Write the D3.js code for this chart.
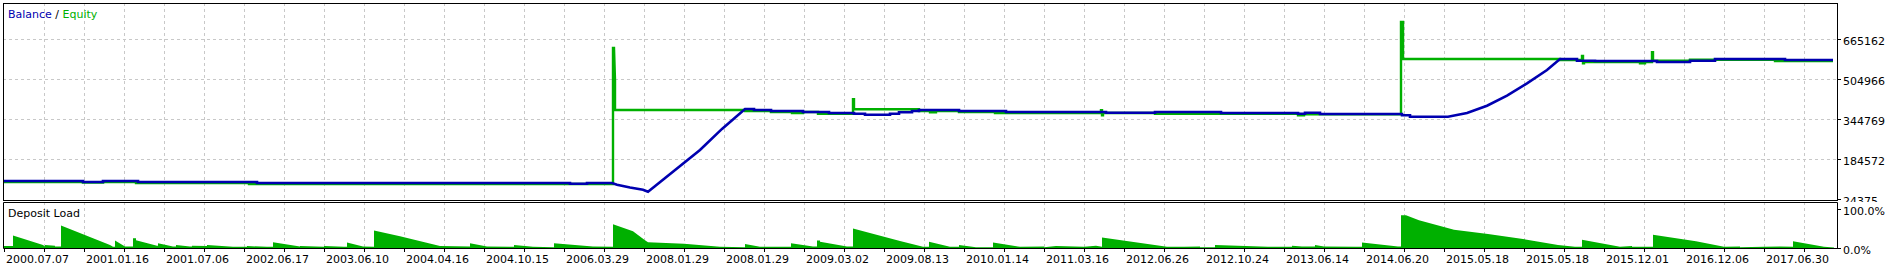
<!DOCTYPE html>
<html lang="en">
<head>
<meta charset="UTF-8">
<title>Balance / Equity</title>
<script src="https://d3js.org/d3.v7.min.js"></script>
<style>
  body { margin: 0; background: #fff; }
  svg { display: block; }
  text { font-family: "DejaVu Sans", sans-serif; font-size: 11px; fill: #000; }
</style>
</head>
<body>
<svg width="1890" height="268"></svg>
<script>
// x axis date labels, one every 20 trades
const dateLabels = ['2000.07.07', '2001.01.16', '2001.07.06', '2002.06.17', '2003.06.10', '2004.04.16',
  '2004.10.15', '2006.03.29', '2008.01.29', '2008.01.29', '2009.03.02', '2009.08.13', '2010.01.14',
  '2011.03.16', '2012.06.26', '2012.10.24', '2013.06.14', '2014.06.20', '2015.05.18', '2015.05.18',
  '2015.12.01', '2016.12.06', '2017.06.30'];
const balanceTicks = [24375, 184572, 344769, 504966, 665162];
const loadTicks = [0, 100];

// [trade number, value]
const balance = [
  [0, 96500], [19.75, 96500], [19.75, 92500], [24.75, 92500], [24.75, 96500], [33.5, 96500],
  [33.5, 92500], [63.25, 92500], [63.25, 88500], [141.5, 88500], [141.5, 85700], [145.75, 85700],
  [145.75, 88500], [152, 88500], [153.25, 81600], [156.5, 70400], [159.75, 61600], [161, 53600],
  [174, 220600], [179.5, 305100], [185.25, 384800], [187.5, 384800], [187.5, 380800],
  [191.75, 380800], [191.75, 376800], [199.75, 376800], [199.75, 372800], [206.25, 372800],
  [206.25, 368800], [212.5, 368800], [212.5, 366000], [215.25, 366000], [215.25, 362000],
  [221.5, 362000], [221.5, 366000], [223.75, 366000], [223.75, 371600], [227, 371600],
  [227, 376800], [228.75, 376800], [228.75, 380800], [238.75, 380800], [238.75, 376800],
  [250.5, 376800], [250.5, 372800], [275.5, 372800], [275.5, 370000], [287.75, 370000],
  [287.75, 372800], [304.25, 372800], [304.25, 368800], [323.5, 368800], [323.5, 366000],
  [325.25, 366000], [325.25, 370000], [329, 370000], [329, 365000], [349.5, 365000],
  [349.5, 359600], [351.5, 359600], [351.5, 354000], [361, 354000], [365.75, 368800],
  [370.75, 398000], [375.75, 438100], [380.75, 487700], [385.75, 541000], [389, 585100],
  [393.25, 585100], [393.25, 578300], [397.75, 578300], [397.75, 577100], [413.25, 577100],
  [413.25, 573100], [421.5, 573100], [421.5, 578300], [427.75, 578300], [427.75, 585100],
  [445.25, 585100], [445.25, 581100], [457.25, 581100]
];

const equity = [
  [0, 92500], [19.75, 92500], [19.75, 90500], [24.75, 90500], [24.75, 92500], [33, 92500],
  [33, 88500], [61.25, 88500], [61.25, 84500], [152.25, 84500], [152.25, 629100], [152.5, 629100],
  [152.75, 501000], [152.75, 380800], [185.25, 380800], [185.25, 376800], [191.75, 376800],
  [191.75, 372800], [197, 372800], [197, 368800], [199.75, 368800], [199.75, 372800],
  [203.5, 372800], [203.5, 366000], [212.25, 366000], [212.25, 423700], [212.5, 423700],
  [212.5, 383600], [228.75, 383600], [228.75, 376800], [231.5, 376800], [231.5, 371600],
  [233, 371600], [233, 376800], [238.75, 376800], [238.75, 372800], [247.75, 372800],
  [247.75, 368800], [274.25, 368800], [274.25, 380000], [274.5, 380000], [274.5, 360000],
  [274.75, 360000], [274.75, 368800], [287.75, 368800], [287.75, 366000], [323.5, 366000],
  [323.5, 360000], [325, 360000], [325, 364000], [349.25, 364000], [349.25, 733200],
  [349.75, 733200], [349.75, 585100], [389, 585100], [389, 581100], [394.5, 581100],
  [394.5, 597100], [394.75, 597100], [394.75, 567800], [395, 567800], [395, 573100],
  [409, 573100], [409, 567800], [410.25, 567800], [410.25, 573100], [412, 573100],
  [412, 611900], [412.25, 611900], [412.25, 578300], [421.5, 578300], [421.5, 582300],
  [442.75, 582300], [442.75, 577100], [457.25, 577100]
];

// [trade number, deposit load %]
const depositLoad = [
  [0, 5], [2.25, 5], [2.25, 32], [9.75, 8], [10.25, 4], [10.25, 8], [12.75, 6], [12.75, 4], [14.25, 4],
  [14.25, 58], [26.5, 8], [27.25, 3], [27.75, 3], [27.75, 19], [30.25, 4], [32.25, 4], [32.25, 25],
  [33, 25], [33, 20], [38.25, 6], [38.5, 6], [38.5, 12], [42.25, 4], [43, 4], [43, 8], [46.5, 4],
  [47, 4], [47, 6], [50.75, 5], [50.75, 8], [57.25, 3], [60.75, 3], [60.75, 5], [65.75, 3],
  [67.25, 3], [67.25, 15], [74, 4], [74, 5], [80, 3], [80, 5], [85, 3], [85.75, 3], [85.75, 14],
  [89.75, 4], [92.5, 3], [92.5, 45], [99, 30], [109, 5], [116.5, 4], [116.5, 12], [120.75, 4],
  [127.5, 3], [127.5, 8], [132.25, 3], [137.5, 2], [137.5, 12], [147.25, 4], [152.25, 3],
  [152.25, 61], [157.25, 43], [160.25, 20], [161, 15], [170, 11], [179, 3], [185.25, 2],
  [185.25, 10], [189, 3], [196.75, 3], [196.75, 12], [202.25, 4], [203.25, 4], [203.25, 19],
  [204, 19], [204, 16], [210.75, 4], [212.25, 4], [212.25, 50], [224, 18], [229.75, 3],
  [231.25, 3], [231.25, 16], [236.5, 3], [238.75, 3], [238.75, 8], [243, 2], [247.25, 2],
  [247.25, 14], [254, 3], [260, 4], [260, 2], [263, 5], [270, 3], [273, 6], [274.5, 3],
  [274.5, 27], [290.75, 3], [295, 3], [299, 4], [299, 2], [302.75, 2], [302.75, 8], [316, 3],
  [322, 3], [322, 6], [324.5, 4], [327.75, 4], [327.75, 8], [330, 4], [338, 3], [339.5, 3],
  [339.5, 14], [348.5, 4], [349.25, 4], [349.25, 84], [350.5, 84], [353.75, 71], [362.5, 47],
  [371, 36], [379.75, 23], [388.5, 8], [392.75, 3], [394.5, 3], [394.5, 21], [404, 3], [407, 5],
  [407, 3], [412.25, 3], [412.25, 34], [423, 17], [430, 3], [434, 4], [434, 2], [440, 3],
  [444, 4], [447.25, 3], [447.25, 17], [455, 3], [457.5, 1], [457.5, 0]
];

const trades = 458.25;
const frameLeft = 3, frameRight = 1837, frameTop = 3, mainBottom = 200, lowerTop = 202, lowerBottom = 248;
const blue = '#0000b0', green = '#00b000', gridColor = '#c8c8c8';

const svg = d3.select('svg');
svg.append('rect').attr('width', 1890).attr('height', 268).attr('fill', '#fff');

const x = d3.scaleLinear().domain([0, trades]).range([frameLeft + 1, frameRight]);
const y = d3.scaleLinear().domain([balanceTicks[0], balanceTicks[4]]).range([199, 39]);
const yLoad = d3.scaleLinear().domain([0, 100]).range([lowerBottom, 209]);
const px = v => Math.round(v) + 0.5;

// vertical grid, main panel
const gridX = d3.range(10, trades, 10);
svg.append('g').selectAll('line').data(gridX).join('line')
  .attr('x1', d => px(x(d))).attr('x2', d => px(x(d)))
  .attr('y1', frameTop).attr('y2', mainBottom)
  .attr('stroke', gridColor).attr('stroke-dasharray', '3,3');

// horizontal grid, main panel
svg.append('g').selectAll('line').data(balanceTicks.slice(1)).join('line')
  .attr('x1', frameLeft).attr('x2', frameRight)
  .attr('y1', d => px(y(d))).attr('y2', d => px(y(d)))
  .attr('stroke', gridColor).attr('stroke-dasharray', '3,3');

// balance / equity lines
svg.append('clipPath').attr('id', 'main-clip')
  .append('rect').attr('x', frameLeft + 1).attr('y', frameTop + 1)
  .attr('width', frameRight - frameLeft - 1).attr('height', mainBottom - frameTop - 1);

const line = d3.line().x(d => x(d[0])).y(d => y(d[1]));
const plot = svg.append('g').attr('clip-path', 'url(#main-clip)');
plot.append('path').datum(equity).attr('d', line)
  .attr('fill', 'none').attr('stroke', green).attr('stroke-width', 2.4);
plot.append('path').datum(balance).attr('d', line)
  .attr('fill', 'none').attr('stroke', blue).attr('stroke-width', 2.6);

// main frame
svg.append('rect')
  .attr('x', frameLeft + 0.5).attr('y', frameTop + 0.5)
  .attr('width', frameRight - frameLeft).attr('height', mainBottom - frameTop)
  .attr('fill', 'none').attr('stroke', '#000');

// main right axis
const yAxis = svg.append('g');
yAxis.selectAll('line').data(balanceTicks).join('line')
  .attr('x1', frameRight).attr('x2', frameRight + 4)
  .attr('y1', d => px(y(d))).attr('y2', d => px(y(d)))
  .attr('stroke', '#000');
yAxis.selectAll('text').data(balanceTicks).join('text')
  .attr('x', frameRight + 6).attr('y', d => y(d) + 6)
  .text(d => d);

const title = svg.append('text').attr('x', 8).attr('y', 18);
title.append('tspan').style('fill', blue).text('Balance');
title.append('tspan').text(' / ');
title.append('tspan').style('fill', green).text('Equity');

// lower panel covers the clipped bottom label
svg.append('rect').attr('x', 0).attr('y', lowerTop).attr('width', 1890).attr('height', 268 - lowerTop)
  .attr('fill', '#fff');
svg.append('g').selectAll('line').data(gridX).join('line')
  .attr('x1', d => px(x(d))).attr('x2', d => px(x(d)))
  .attr('y1', lowerTop).attr('y2', lowerBottom)
  .attr('stroke', gridColor).attr('stroke-dasharray', '3,3');

const area = d3.area().x(d => x(d[0])).y0(yLoad(0)).y1(d => yLoad(d[1]));
svg.append('path').datum(depositLoad).attr('d', area).attr('fill', green);

svg.append('path')
  .attr('d', `M${frameLeft + 0.5},${lowerBottom + 0.5}V${lowerTop + 0.5}H${frameRight + 0.5}V${lowerBottom + 0.5}H${frameLeft + 0.5}`)
  .attr('fill', 'none').attr('stroke', '#000');

svg.append('text').attr('x', 8).attr('y', 217).text('Deposit Load');

const loadAxis = svg.append('g');
loadAxis.selectAll('line').data(loadTicks).join('line')
  .attr('x1', frameRight).attr('x2', frameRight + 4)
  .attr('y1', d => px(yLoad(d))).attr('y2', d => px(yLoad(d)))
  .attr('stroke', '#000');
loadAxis.selectAll('text').data(loadTicks).join('text')
  .attr('x', frameRight + 6).attr('y', d => yLoad(d) + 6)
  .text(d => d.toFixed(1) + '%');

// bottom axis
const xAxis = svg.append('g');
xAxis.selectAll('line').data(d3.range(0, trades, 10)).join('line')
  .attr('x1', d => px(x(d))).attr('x2', d => px(x(d)))
  .attr('y1', lowerBottom).attr('y2', lowerBottom + 4)
  .attr('stroke', '#000');
xAxis.selectAll('text').data(dateLabels).join('text')
  .attr('x', (d, i) => x(i * 20) + 2).attr('y', 263)
  .text(d => d);
</script>
</body>
</html>
